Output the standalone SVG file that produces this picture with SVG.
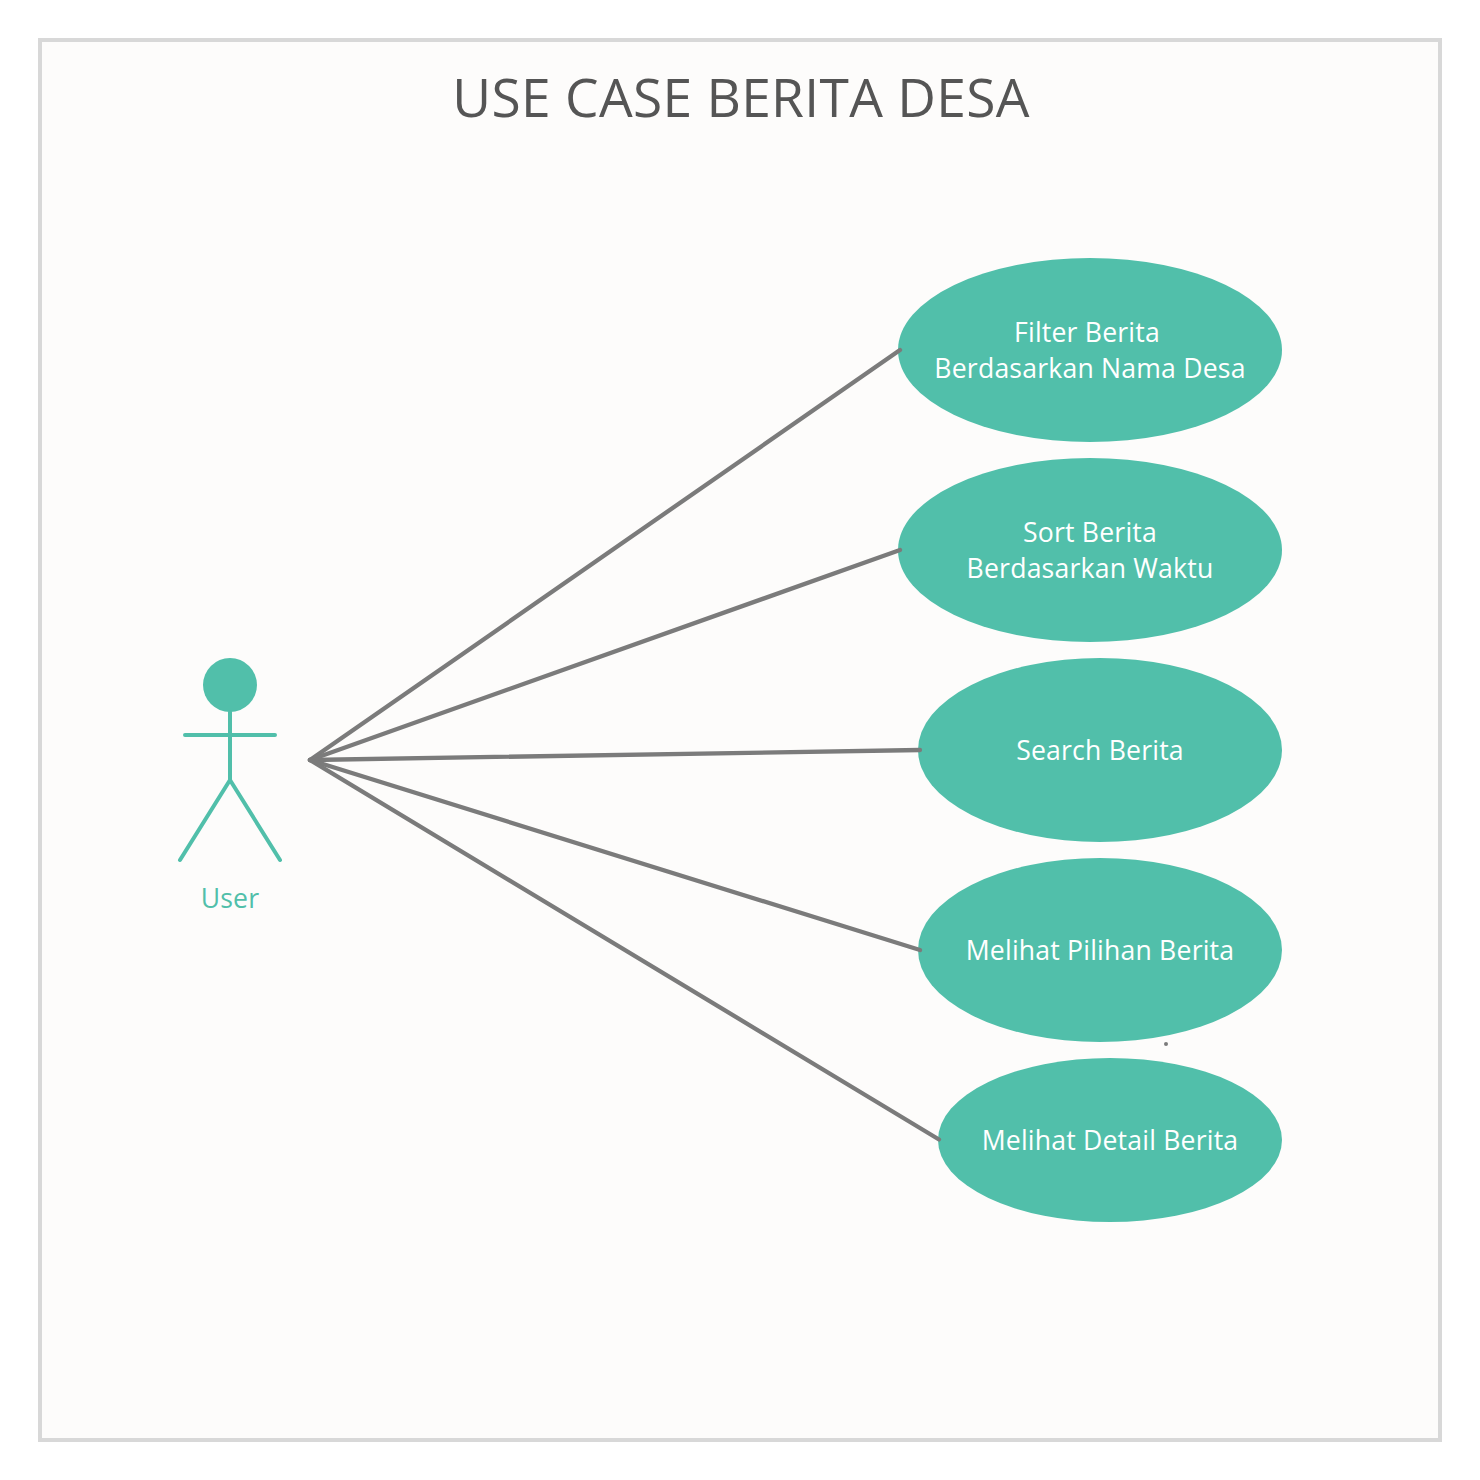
<svg xmlns="http://www.w3.org/2000/svg" width="1480" height="1480" viewBox="0 0 1480 1480">
<style>
text{font-family:"Open Sans","Noto Sans",sans-serif;text-anchor:middle}
.uc{fill:#51bfaa}
.ut{fill:#fff;font-size:26.6px;letter-spacing:.2px}
.c{stroke:#7b7b7b;stroke-width:4.3;fill:none;stroke-linecap:round}
.a{stroke:#51bfaa;stroke-width:4;fill:none;stroke-linecap:round}
</style>
<rect width="1480" height="1480" fill="#fff"/>
<rect id="frame" x="40" y="40" width="1400" height="1400" fill="#fdfcfb" stroke="#d8d8d8" stroke-width="4"/>
<text id="title" x="741" y="117" font-size="53.3" letter-spacing=".3" fill="#555">USE CASE BERITA DESA</text>
<g id="actor">
<circle cx="230" cy="685" r="27" fill="#51bfaa"/>
<path class="a" d="M230 712V780M185 735H275M230 780L180 860M230 780L280 860"/>
<text x="230" y="908" font-size="26.6" letter-spacing=".2" fill="#51bfaa">User</text>
</g>
<g id="uc1"><ellipse class="uc" cx="1090" cy="350" rx="192" ry="92"/><text class="ut" x="1087" y="342">Filter Berita</text><text class="ut" x="1090" y="378">Berdasarkan Nama Desa</text></g>
<g id="uc2"><ellipse class="uc" cx="1090" cy="550" rx="192" ry="92"/><text class="ut" x="1090" y="542">Sort Berita</text><text class="ut" x="1090" y="578">Berdasarkan Waktu</text></g>
<g id="uc3"><ellipse class="uc" cx="1100" cy="750" rx="182" ry="92"/><text class="ut" x="1100" y="760">Search Berita</text></g>
<g id="uc4"><ellipse class="uc" cx="1100" cy="950" rx="182" ry="92"/><text class="ut" x="1100" y="960">Melihat Pilihan Berita</text></g>
<g id="uc5"><ellipse class="uc" cx="1110" cy="1140" rx="172" ry="82"/><text class="ut" x="1110" y="1150">Melihat Detail Berita</text></g>
<g id="connectors">
<line class="c" x1="310" y1="760" x2="900" y2="350"/>
<line class="c" x1="310" y1="760" x2="900" y2="550"/>
<line class="c" x1="310" y1="760" x2="920" y2="750"/>
<line class="c" x1="310" y1="760" x2="920" y2="950"/>
<line class="c" x1="310" y1="760" x2="939" y2="1139.5"/>
<circle cx="1166" cy="1044" r="2" fill="#7b7b7b"/>
</g>
</svg>
